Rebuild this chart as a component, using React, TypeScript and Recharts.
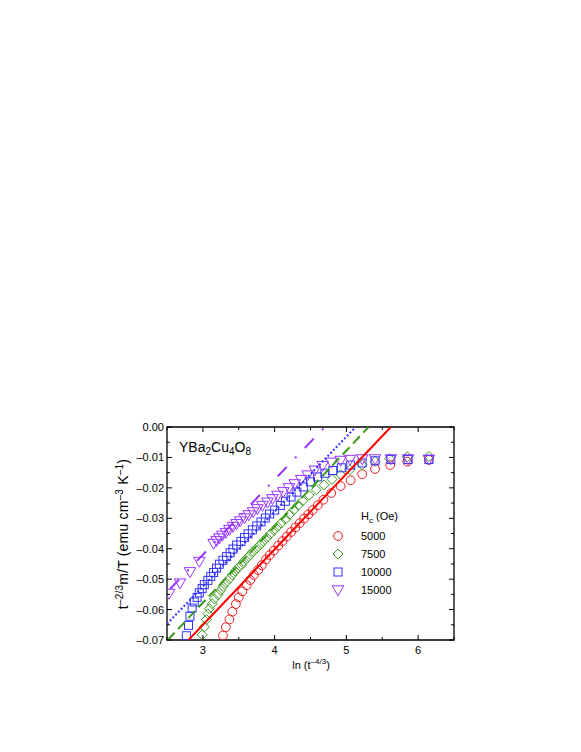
import React from 'react'
import { ComposedChart, Scatter, XAxis, YAxis, ReferenceArea, Legend } from 'recharts'

// H = 5000 Oe
const x5000 = [3.28, 3.32, 3.37, 3.41, 3.46, 3.5, 3.55, 3.61, 3.66, 3.71, 3.77, 3.82, 3.88, 3.93, 3.99, 4.05, 4.11, 4.17, 4.23, 4.29, 4.35, 4.41, 4.47, 4.53, 4.6, 4.68, 4.79, 4.92, 5.06, 5.22, 5.4, 5.61, 5.85, 6.15]
const y5000 = [-0.0685, -0.0658, -0.0632, -0.0607, -0.0582, -0.056, -0.054, -0.052, -0.0503, -0.0486, -0.047, -0.0454, -0.0435, -0.0421, -0.0406, -0.039, -0.0375, -0.036, -0.0345, -0.033, -0.0316, -0.0301, -0.0287, -0.0273, -0.0257, -0.0239, -0.0217, -0.0194, -0.0175, -0.0155, -0.0138, -0.0125, -0.0114, -0.0108]

// H = 7500 Oe
const x7500 = [2.99, 3.02, 3.05, 3.07, 3.09, 3.13, 3.16, 3.21, 3.25, 3.28, 3.32, 3.37, 3.41, 3.45, 3.49, 3.54, 3.57, 3.62, 3.66, 3.7, 3.75, 3.8, 3.84, 3.89, 3.94, 3.99, 4.04, 4.09, 4.15, 4.21, 4.27, 4.33, 4.39, 4.48, 4.58, 4.69, 4.8, 4.92, 5.05, 5.22, 5.4, 5.6, 5.85, 6.15]
const y7500 = [-0.0683, -0.0657, -0.0633, -0.0614, -0.0597, -0.0581, -0.0565, -0.0551, -0.0537, -0.0524, -0.0511, -0.0499, -0.0486, -0.0474, -0.0463, -0.0453, -0.0442, -0.043, -0.042, -0.0409, -0.0398, -0.0387, -0.0376, -0.0364, -0.0352, -0.034, -0.0328, -0.0316, -0.0303, -0.0287, -0.0272, -0.0257, -0.0243, -0.0224, -0.0206, -0.019, -0.0172, -0.0157, -0.014, -0.0124, -0.0113, -0.0104, -0.0098, -0.0097]

// H = 10000 Oe
const x10000 = [2.77, 2.8, 2.82, 2.85, 2.88, 2.92, 2.95, 2.99, 3.02, 3.07, 3.11, 3.15, 3.19, 3.23, 3.28, 3.33, 3.38, 3.42, 3.47, 3.53, 3.58, 3.63, 3.69, 3.75, 3.81, 3.87, 3.93, 4.0, 4.08, 4.15, 4.23, 4.31, 4.4, 4.5, 4.6, 4.7, 4.81, 4.93, 5.06, 5.22, 5.4, 5.62, 5.86, 6.15]
const y10000 = [-0.0686, -0.0652, -0.0622, -0.0595, -0.0575, -0.056, -0.0545, -0.0531, -0.0518, -0.0504, -0.0491, -0.0478, -0.0464, -0.0451, -0.0438, -0.0426, -0.0413, -0.0401, -0.0388, -0.0376, -0.0363, -0.0351, -0.0338, -0.0325, -0.0312, -0.0299, -0.0286, -0.0273, -0.0258, -0.0244, -0.023, -0.0214, -0.0197, -0.018, -0.0164, -0.0152, -0.0143, -0.0134, -0.0125, -0.0118, -0.0111, -0.0107, -0.0107, -0.0107]

// H = 15000 Oe
const x15000 = [2.53, 2.68, 2.82, 2.95, 3.15, 3.19, 3.23, 3.27, 3.32, 3.37, 3.42, 3.47, 3.52, 3.58, 3.64, 3.7, 3.76, 3.83, 3.9, 3.97, 4.04, 4.12, 4.2, 4.28, 4.37, 4.46, 4.56, 4.67, 4.79, 4.92, 5.05, 5.22, 5.4, 5.62, 5.86, 6.15]
const y15000 = [-0.0547, -0.0513, -0.0476, -0.0442, -0.0383, -0.0374, -0.0365, -0.0356, -0.0347, -0.0337, -0.0327, -0.0318, -0.0309, -0.0299, -0.0289, -0.0279, -0.0269, -0.0258, -0.0247, -0.0236, -0.0225, -0.0213, -0.02, -0.0187, -0.0173, -0.0158, -0.0142, -0.0127, -0.0116, -0.011, -0.0107, -0.0105, -0.0105, -0.0105, -0.0105, -0.0106]

// straight-line fits (end points)
const fitX5000 = [2.8, 5.62]
const fitY5000 = [-0.07, 0]
const fitX7500 = [2.51, 5.31]
const fitY7500 = [-0.07, 0]
const fitX10000 = [2.5, 5.13]
const fitY10000 = [-0.0647, 0]
const fitX15000 = [2.5, 4.7]
const fitY15000 = [-0.0543, 0]

const fields = ['5000', '7500', '10000', '15000']

const xTicks = [2.5, 3, 3.5, 4, 4.5, 5, 5.5, 6, 6.5]
const yTicks = [-0.07, -0.065, -0.06, -0.055, -0.05, -0.045, -0.04, -0.035, -0.03, -0.025, -0.02, -0.015, -0.01, -0.005, 0]

const pts = (xs: number[], ys: number[]) => xs.map((x, i) => ({ x, y: ys[i] }))

const RED = '#ee1d23'
const GREEN = '#3b9a1c'
const BLUE = '#3333ff'
const PURPLE = '#9933ff'

const FONT = '"Liberation Sans", Arial, Helvetica, sans-serif'
const PW = 287
const PH = 213

const Circle = ({ cx, cy }: any) => <circle cx={cx} cy={cy} r={4.4} fill="none" stroke={RED} strokeWidth={1} />
const Diamond = ({ cx, cy }: any) => (
  <polygon points={`${cx},${cy - 5} ${cx + 5},${cy} ${cx},${cy + 5} ${cx - 5},${cy}`} fill="none" stroke={GREEN} strokeWidth={1} />
)
const Square = ({ cx, cy }: any) => <rect x={cx - 4} y={cy - 4} width={8} height={8} fill="none" stroke={BLUE} strokeWidth={1} />
const TriDown = ({ cx, cy }: any) => (
  <polygon points={`${cx - 5.8},${cy - 4.2} ${cx + 5.8},${cy - 4.2} ${cx},${cy + 5.8}`} fill="none" stroke={PURPLE} strokeWidth={1} />
)
const Nothing = () => <g />

const XTick = ({ x, y, payload }: any) => {
  const major = Number.isInteger(payload.value)
  const len = major ? 5 : 3
  return (
    <g>
      <line x1={x} y1={y} x2={x} y2={y - len} stroke="#000" strokeWidth={1} />
      <line x1={x} y1={y - PH} x2={x} y2={y - PH + len} stroke="#000" strokeWidth={1} />
      {major && (
        <text x={x} y={y + 14} textAnchor="middle" fontSize={11} fontFamily={FONT} fill="#000">
          {payload.value}
        </text>
      )}
    </g>
  )
}

const YTick = ({ x, y, payload }: any) => {
  const v = payload.value
  const major = Math.abs(v * 100 - Math.round(v * 100)) < 1e-6
  const len = major ? 5 : 3
  const label = v === 0 ? '0.00' : '\u2013' + Math.abs(v).toFixed(2)
  return (
    <g>
      <line x1={x} y1={y} x2={x + len} y2={y} stroke="#000" strokeWidth={1} />
      <line x1={x + PW} y1={y} x2={x + PW - len} y2={y} stroke="#000" strokeWidth={1} />
      {major && (
        <text x={x - 3} y={y + 4} textAnchor="end" fontSize={11} fontFamily={FONT} fill="#000">
          {label}
        </text>
      )}
    </g>
  )
}

const legendShapes = [Circle, Diamond, Square, TriDown]

const LegendBox = () => (
  <svg width={110} height={100} style={{ overflow: 'visible', display: 'block' }}>
    <text x={35} y={17} fontSize={11} fontFamily={FONT}>
      H<tspan dy={3} fontSize={8}>c</tspan>
      <tspan dy={-3}> (Oe)</tspan>
    </text>
    {fields.map((f, i) => {
      const S = legendShapes[i]
      const cy = 33 + i * 18
      return (
        <g key={f}>
          <S cx={12} cy={cy} />
          <text x={35} y={cy + 4} fontSize={11} fontFamily={FONT}>
            {f}
          </text>
        </g>
      )
    })}
  </svg>
)

export default function App() {
  return (
    <div style={{ position: 'relative', width: 565, height: 700 }}>
      <ComposedChart width={565} height={680} margin={{ top: 419, right: 119, bottom: 18, left: 119 }}>
        <XAxis
          type="number"
          dataKey="x"
          domain={[2.5, 6.5]}
          ticks={xTicks}
          interval={0}
          tickSize={0}
          tickMargin={0}
          tick={<XTick />}
          axisLine={false}
          height={30}
          allowDataOverflow
        />
        <YAxis
          type="number"
          dataKey="y"
          domain={[-0.07, 0]}
          ticks={yTicks}
          interval={0}
          tickSize={0}
          tickMargin={0}
          tick={<YTick />}
          axisLine={false}
          width={40}
          allowDataOverflow
        />
        <ReferenceArea x1={2.5} x2={6.5} y1={-0.07} y2={0} fill="none" stroke="#000" strokeWidth={1.3} fillOpacity={0} />
        <Scatter data={pts(x5000, y5000)} shape={Circle} isAnimationActive={false} />
        <Scatter data={pts(x7500, y7500)} shape={Diamond} isAnimationActive={false} />
        <Scatter data={pts(x10000, y10000)} shape={Square} isAnimationActive={false} />
        <Scatter data={pts(x15000, y15000)} shape={TriDown} isAnimationActive={false} />
        <Scatter data={pts(fitX5000, fitY5000)} shape={Nothing} line={{ stroke: '#ff0000', strokeWidth: 2 }} isAnimationActive={false} />
        <Scatter data={pts(fitX7500, fitY7500)} shape={Nothing} line={{ stroke: GREEN, strokeWidth: 2, strokeDasharray: '10 5' }} isAnimationActive={false} />
        <Scatter data={pts(fitX10000, fitY10000)} shape={Nothing} line={{ stroke: BLUE, strokeWidth: 2, strokeDasharray: '2 2' }} isAnimationActive={false} />
        <Scatter
          data={pts(fitX15000, fitY15000)}
          shape={Nothing}
          line={{ stroke: PURPLE, strokeWidth: 2, strokeDasharray: '13 12 2 12', strokeDashoffset: 34.6 }}
          isAnimationActive={false}
        />
        <Legend
          layout="vertical"
          align="center"
          verticalAlign="middle"
          content={() => <LegendBox />}
          wrapperStyle={{ position: 'absolute', left: 318, top: 495, width: 110, height: 100 }}
        />
      </ComposedChart>
      <svg width={565} height={700} style={{ position: 'absolute', left: 0, top: 0, pointerEvents: 'none' }}>
        <text x={171} y={444} fontSize={14} fontFamily={FONT}>
          YBa<tspan dy={3} fontSize={10}>2</tspan>
          <tspan dy={-3}>Cu</tspan>
          <tspan dy={3} fontSize={10}>4</tspan>
          <tspan dy={-3}>O</tspan>
          <tspan dy={3} fontSize={10}>8</tspan>
        </text>
        <text transform="translate(120,526) rotate(-90)" textAnchor="middle" fontSize={14} letterSpacing={0.2} fontFamily={FONT}>
          t<tspan dy={-5} fontSize={10}>{'\u20132/3'}</tspan>
          <tspan dy={5}>m/T (emu cm</tspan>
          <tspan dy={-5} fontSize={10}>{'\u20133'}</tspan>
          <tspan dy={5}> K</tspan>
          <tspan dy={-5} fontSize={10}>{'\u20131'}</tspan>
          <tspan dy={5}>)</tspan>
        </text>
        <text x={303} y={661} textAnchor="middle" fontSize={11} fontFamily={FONT}>
          ln (t<tspan dy={-5} fontSize={8}>{'\u20134/3'}</tspan>
          <tspan dy={5}>)</tspan>
        </text>
      </svg>
    </div>
  )
}
